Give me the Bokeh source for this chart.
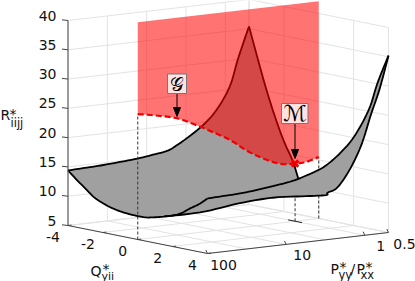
import numpy as np
from bokeh.plotting import figure
from bokeh.embed import file_html
from bokeh.resources import INLINE
from bokeh.core.properties import value

# tick values
r_ticks = [5, 10, 15, 20, 25, 30, 35, 40]
q_ticks = [-4, -2, 0, 2, 4]
p_labels = [100, 10, 1, 0.5]
p_label_text = ["100", "10", "1", "0.5"]
p_grid = [100, 31.6, 10, 3.16, 1, 0.5]

# surface edges
edge_p = [100, 62, 38.5, 22.7, 13.1, 8.3, 5.4, 4.2, 3.4, 2.6, 1.95, 1.45, 1.08, 0.85, 0.7, 0.58, 0.5]
edge_qm4_r = [14.4, 14.5, 14.6, 14.8, 15.06, 15.4, 15.8, 16.5, 17.2, 18.2, 19.4, 21.0, 23.3, 26.0, 29.8, 33.0, 35.4]
edge_qp4_r = [14.4, 14.5, 14.6, 14.9, 15.3, 15.7, 16.4, 16.9, 17.4, 18.4, 19.8, 21.6, 24.2, 27.0, 30.5, 33.2, 35.2]

p100_q = [-4, -3.5, -3, -2.5, -2, -1.5, -1, -0.5, 0, 0.5, 1, 1.5, 2, 2.5, 3, 3.5, 4]
p100_r = [14.4, 13.1, 11.9, 10.7, 10.0, 9.5, 9.2, 9.05, 9.0, 9.06, 9.4, 9.8, 10.3, 11.0, 12.1, 13.1, 14.4]

p05_left_q = [-4, -3.5, -3, -2.5, -2, -1.5, -1.17]
p05_left_r = [35.4, 30.2, 25.2, 20.8, 17.0, 14.0, 11.1]
p05_right_q = [0, 0.5, 1, 1.5, 2, 2.5, 3, 3.5, 4]
p05_right_r = [9.1, 9.7, 10.7, 12.9, 15.8, 19.5, 24.6, 29.3, 35.2]

# lower outline of the surface, near Q = 1
sil_q = 1
sil_p = [76, 55, 23, 8.7, 3.2, 1.2, 0.67]
sil_r = [9.4, 9.3, 9.4, 10.1, 10.4, 10.0, 9.8]

# curve G in the plane Q = 0
g_p = [100, 69, 33, 19.5, 11.3, 6.6, 4.1, 2.5, 1.54, 1.05, 0.73, 0.5]
g_r = [26.4, 26.0, 25.0, 23.6, 21.9, 20.1, 18.0, 16.3, 15.1, 14.85, 14.9, 15.5]
plane_top_r = 42.1
m_p, m_r = 1.0, 14.85


def proj(q, pv, r):
    q, pv, r = np.broadcast_arrays(np.asarray(q, float), np.asarray(pv, float), np.asarray(r, float))
    t = np.log10(100.0 / pv) / np.log10(200.0)
    u = (q + 4) / 8.0
    x = 67.5 + 139.5 * u + 181.0 * t
    y = 225.0 + 28.0 * u - 21.0 * t - (r - 5) * 205.0 / 35.0
    return x, y


def smooth(xs, ys, k=6):
    """Round the drawn stroke through the read points (Catmull-Rom), for rendering only."""
    pts = np.column_stack([xs, ys])
    pts = np.vstack([2 * pts[0] - pts[1], pts, 2 * pts[-1] - pts[-2]])
    out = []
    for i in range(1, len(pts) - 2):
        a, b, c, d = pts[i - 1], pts[i], pts[i + 1], pts[i + 2]
        for s in np.arange(k) / k:
            out.append(0.5 * (2 * b + (c - a) * s + (2 * a - 5 * b + 4 * c - d) * s ** 2
                              + (3 * b - a - 3 * c + d) * s ** 3))
    out.append(pts[-2])
    out = np.array(out)
    return out[:, 0], out[:, 1]


p = figure(width=415, height=281, x_range=(0, 415), y_range=(281, 0), output_backend="svg",
           toolbar_location=None, min_border=0, outline_line_color=None)
p.axis.visible = False
p.grid.visible = False
p.background_fill_color = "white"

GRID = "#e3e3e3"


def seg(a, b, color=GRID, w=1.0, dash="solid"):
    xa, ya = proj(*a)
    xb, yb = proj(*b)
    p.line([float(xa), float(xb)], [float(ya), float(yb)], line_color=color, line_width=w, line_dash=dash)


# back walls and floor
for r in r_ticks:
    seg((-4, 100, r), (-4, 0.5, r))
    seg((-4, 0.5, r), (4, 0.5, r))
for v in p_grid:
    seg((-4, v, 5), (-4, v, 40))
    seg((-4, v, 5), (4, v, 5))
for q in q_ticks:
    seg((q, 0.5, 5), (q, 0.5, 40))
    seg((q, 100, 5), (q, 0.5, 5))

# dashed drops that pass behind the surface
DROP = "#333333"
seg((0, 0.5, 5), (0, 0.5, g_r[-1]), DROP, 1.0, "3 2")
seg((0, m_p, 5), (0, m_p, m_r), DROP, 1.0, "3 2")
seg((-0.4, m_p, 5), (0.4, m_p, 5), "#222222", 1.0)

# surface
n = len(edge_p)
ep = np.array(edge_p)
x1, y1 = smooth(*proj(np.full(n, -4.0), ep, edge_qm4_r))
x2, y2 = smooth(*proj(np.full(n, 4.0), ep, edge_qp4_r))
x3a, y3a = proj(p100_q, 100, p100_r)
x3, y3 = smooth(x3a, y3a)
x4, y4 = smooth(*proj(p05_left_q, 0.5, p05_left_r))
x5, y5 = proj(p05_right_q, 0.5, p05_right_r)
x6, y6 = proj(sil_q, sil_p, sil_r)
xs, ys = smooth(np.r_[x6, x5[1:]], np.r_[y6, y5[1:]])
x6s, y6s = smooth(x6, y6)
i1 = p100_q.index(1) * 6

GRAY = "#a0a0a0"
px = np.r_[x1, x4, x5[:1], x6s[::-1], x3[:i1 + 1][::-1]]
py = np.r_[y1, y4, y5[:1], y6s[::-1], y3[:i1 + 1][::-1]]
p.patch(px, py, fill_color=GRAY, line_color=None)
px = np.r_[x3[i1:], x2, xs[::-1]]
py = np.r_[y3[i1:], y2, ys[::-1]]
p.patch(px, py, fill_color=GRAY, line_color=None)

for lx, ly in [(x1, y1), (x2, y2), (x3, y3), (x4, y4), (xs, ys)]:
    p.line(lx, ly, line_color="black", line_width=1.8, line_join="round")

# red plane Q = 0
gx, gy = smooth(*proj(0, g_p, g_r))
tx, ty = proj(0, [100, 0.5], plane_top_r)
p.patch(np.r_[tx, gx[::-1]], np.r_[ty, gy[::-1]], fill_color="#ff0000", fill_alpha=0.55, line_color=None)
p.line(gx, gy, line_color="#ee0000", line_width=2.2, line_dash="6 3")
seg((0, 100, 5), (0, 100, g_r[0]), DROP, 1.0, "3 2")

# axes
AX = "#444444"
seg((-4, 100, 5), (-4, 100, 40), AX, 1.0)
seg((-4, 100, 5), (4, 100, 5), AX, 1.0)
seg((4, 100, 5), (4, 0.5, 5), AX, 1.0)
FONT = value("DejaVu Sans")
for r in r_ticks:
    x, y = proj(-4, 100, r)
    p.line([x - 6, x], [y - 0.7, y], line_color=AX, line_width=1)
    p.text([56], [y - 5], text=[str(r)], text_font=FONT, text_font_size="14px",
           text_align="right", text_baseline="middle", text_color="#111111")
for q in q_ticks:
    x, y = proj(q, 100, 5)
    p.line([x, x + 3.5], [y, y - 0.4], line_color=AX, line_width=1)
    p.text([x - 15], [y + 11], text=[str(q)], text_font=FONT, text_font_size="14px",
           text_align="center", text_baseline="middle", text_color="#111111")
for v, s in zip(p_labels, p_label_text):
    x, y = proj(4, v, 5)
    p.line([x, x - 1.7], [y, y - 3.5], line_color=AX, line_width=1)
    p.text([x + 16], [y + 11], text=[s], text_font=FONT, text_font_size="14px",
           text_align="center", text_baseline="middle", text_color="#111111")


def word(x, y, s, size=14):
    p.text([x], [y], text=[s], text_font=FONT, text_font_size=f"{size}px",
           text_align="left", text_baseline="alphabetic", text_color="#111111")


word(0, 114, "R", 14); word(9, 113, "*", 14); word(10, 122, "iijj", 11.5)
word(90, 270, "Q", 14); word(102, 268, "*", 14); word(101, 275.5, "yii", 11)
word(330, 268, "P", 14); word(339, 266, "*", 14); word(338, 274, "yy", 11.5)
word(350, 268, "/", 14); word(356, 268, "P", 14); word(365, 266, "*", 14); word(360, 274, "xx", 11.5)

# M marker and labels
mx, my = proj(0, m_p, m_r)
p.scatter(mx, my, marker="x", size=9, line_color="#ee0000", line_width=3)


def callout(l, r, t, b, ax, ay, s, font, size):
    p.line([ax, ax], [b, ay - 8], line_color="black", line_width=1)
    p.patch([ax - 3.5, ax + 3.5, ax], [ay - 9, ay - 9, ay], fill_color="black", line_color="black")
    p.quad(left=[l], right=[r], top=[t], bottom=[b], fill_color="#ffe2e2", line_color="#777777", line_width=1)
    p.text([(l + r) / 2], [(t + b) / 2], text=[s], text_font=value(font), text_font_size=size,
           text_align="center", text_baseline="middle", text_color="black")


callout(167, 186, 73.5, 93, 176.5, 116, "\U0001D4A2", "DejaVu Sans", "19px")
callout(281, 307.5, 103, 123, 294.5, 158, "\u2133", "DejaVu Sans", "22px")

open("out.html", "w").write(file_html(p, INLINE))
